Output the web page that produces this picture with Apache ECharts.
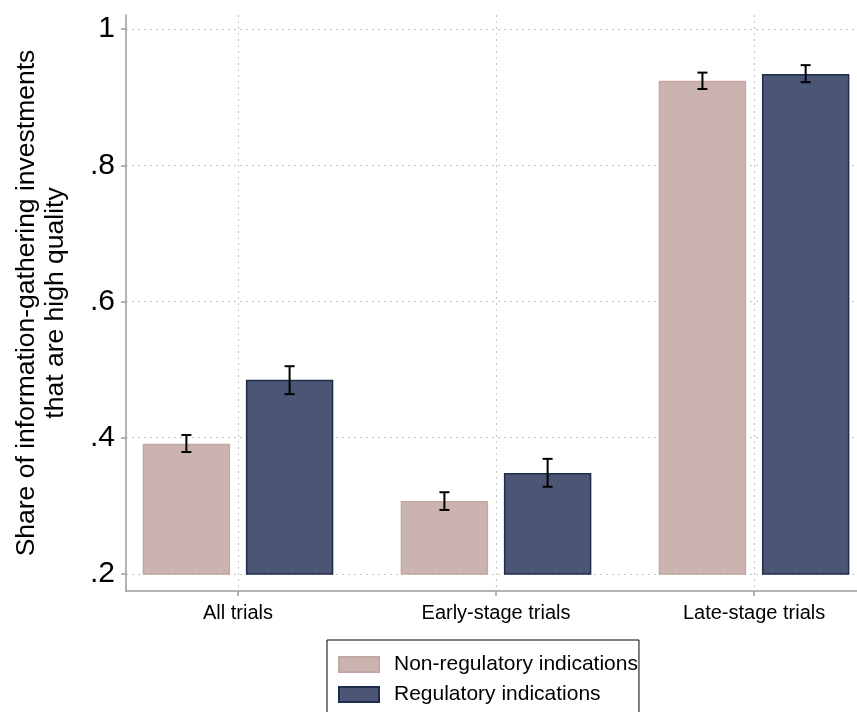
<!DOCTYPE html>
<html>
<head>
<meta charset="utf-8">
<script src="https://cdn.jsdelivr.net/npm/echarts@6/dist/echarts.min.js"></script>
<style>
  html, body { margin: 0; padding: 0; background: #fff; }
  #chart { width: 857px; height: 712px; }
</style>
</head>
<body>
<div id="chart"></div>
<script>
// categories and values
const categories = ['All trials', 'Early-stage trials', 'Late-stage trials']
const seriesNames = ['Non-regulatory indications', 'Regulatory indications']
const nonRegMean = [0.390, 0.306, 0.923]
const nonRegLow = [0.379, 0.294, 0.912]
const nonRegHigh = [0.404, 0.320, 0.936]
const regMean = [0.484, 0.347, 0.933]
const regLow = [0.464, 0.328, 0.922]
const regHigh = [0.505, 0.369, 0.947]
const yTicks = [0.2, 0.4, 0.6, 0.8, 1]

const catPos = categories.map((c, i) => i + 1)
const barWidth = 0.333 // in category units
const barOffset = 0.2

const toData = (mean, low, high) => catPos.map((x, i) => [x, mean[i], low[i], high[i]])

// draws one bar (from .2 up) plus its error bar
const makeRender = (offset, fill, stroke) => function(params, api) {
  const x = api.value(0) + offset
  const base = yTicks[0]
  const p0 = api.coord([x - barWidth / 2, api.value(1)])
  const p1 = api.coord([x + barWidth / 2, base])
  const top = api.coord([x, api.value(3)])
  const bot = api.coord([x, api.value(2)])
  const cap = 5
  const line = { stroke: '#000', lineWidth: 2 }
  return {
    type: 'group',
    children: [
      {
        type: 'rect',
        shape: { x: p0[0], y: p0[1], width: p1[0] - p0[0], height: p1[1] - p0[1] },
        style: { fill: fill, stroke: stroke, lineWidth: 1.5 }
      },
      { type: 'line', shape: { x1: top[0], y1: top[1], x2: bot[0], y2: bot[1] }, style: line },
      { type: 'line', shape: { x1: top[0] - cap, y1: top[1], x2: top[0] + cap, y2: top[1] }, style: line },
      { type: 'line', shape: { x1: bot[0] - cap, y1: bot[1], x2: bot[0] + cap, y2: bot[1] }, style: line }
    ]
  }
}

const chart = echarts.init(document.getElementById('chart'), null, { renderer: 'canvas' })

const axisColor = '#9a9a9a'
const gridLine = { color: '#c4c4c4', width: 1, type: [2, 4] }

chart.setOption({
  backgroundColor: '#fff',
  animation: false,
  textStyle: { fontFamily: 'Liberation Sans, Arial, sans-serif' },
  grid: { left: 126, right: 0, top: 15, bottom: 121 },
  xAxis: {
    type: 'value',
    min: 0.566,
    max: 3.399,
    axisLine: { show: true, lineStyle: { color: axisColor, width: 1.5 } },
    axisTick: { show: true, customValues: catPos, length: 5, lineStyle: { color: axisColor, width: 1.5 } },
    axisLabel: {
      customValues: catPos,
      formatter: v => categories[Math.round(v) - 1],
      color: '#000',
      fontSize: 20,
      margin: 12
    },
    splitLine: { show: true, lineStyle: gridLine }
  },
  yAxis: {
    type: 'value',
    min: 0.175,
    max: 1.0206,
    name: 'Share of information-gathering investments\nthat are high quality',
    nameLocation: 'middle',
    nameRotate: 90,
    nameGap: 56,
    nameTextStyle: { color: '#000', fontSize: 26.5, lineHeight: 29 },
    axisLine: { show: true, lineStyle: { color: axisColor, width: 1.5 } },
    axisTick: { show: true, customValues: yTicks, length: 5, lineStyle: { color: axisColor, width: 1.5 } },
    axisLabel: {
      customValues: yTicks,
      formatter: v => String(+v.toFixed(1)).replace(/^0\./, '.'),
      color: '#000',
      fontSize: 30,
      margin: 11
    },
    splitLine: { show: true, lineStyle: gridLine }
  },
  legend: {
    data: seriesNames,
    orient: 'vertical',
    left: 327,
    top: 640,
    height: 120,
    icon: 'rect',
    itemWidth: 40,
    itemHeight: 15,
    itemGap: 9,
    padding: [14, 1, 14, 11],
    borderColor: '#000',
    borderWidth: 1,
    textStyle: { color: '#000', fontSize: 21, padding: [0, 0, 0, 10] }
  },
  series: [
    {
      name: seriesNames[0],
      type: 'custom',
      renderItem: makeRender(-barOffset, '#cbb4b0', '#c2a7a2'),
      itemStyle: { color: '#cbb4b0', borderColor: '#c2a7a2', borderWidth: 1.5 },
      encode: { x: 0, y: [1, 2, 3] },
      data: toData(nonRegMean, nonRegLow, nonRegHigh)
    },
    {
      name: seriesNames[1],
      type: 'custom',
      renderItem: makeRender(barOffset, '#4b5674', '#1f2c4f'),
      itemStyle: { color: '#4b5674', borderColor: '#1f2c4f', borderWidth: 1.5 },
      encode: { x: 0, y: [1, 2, 3] },
      data: toData(regMean, regLow, regHigh)
    }
  ]
})
</script>
</body>
</html>
